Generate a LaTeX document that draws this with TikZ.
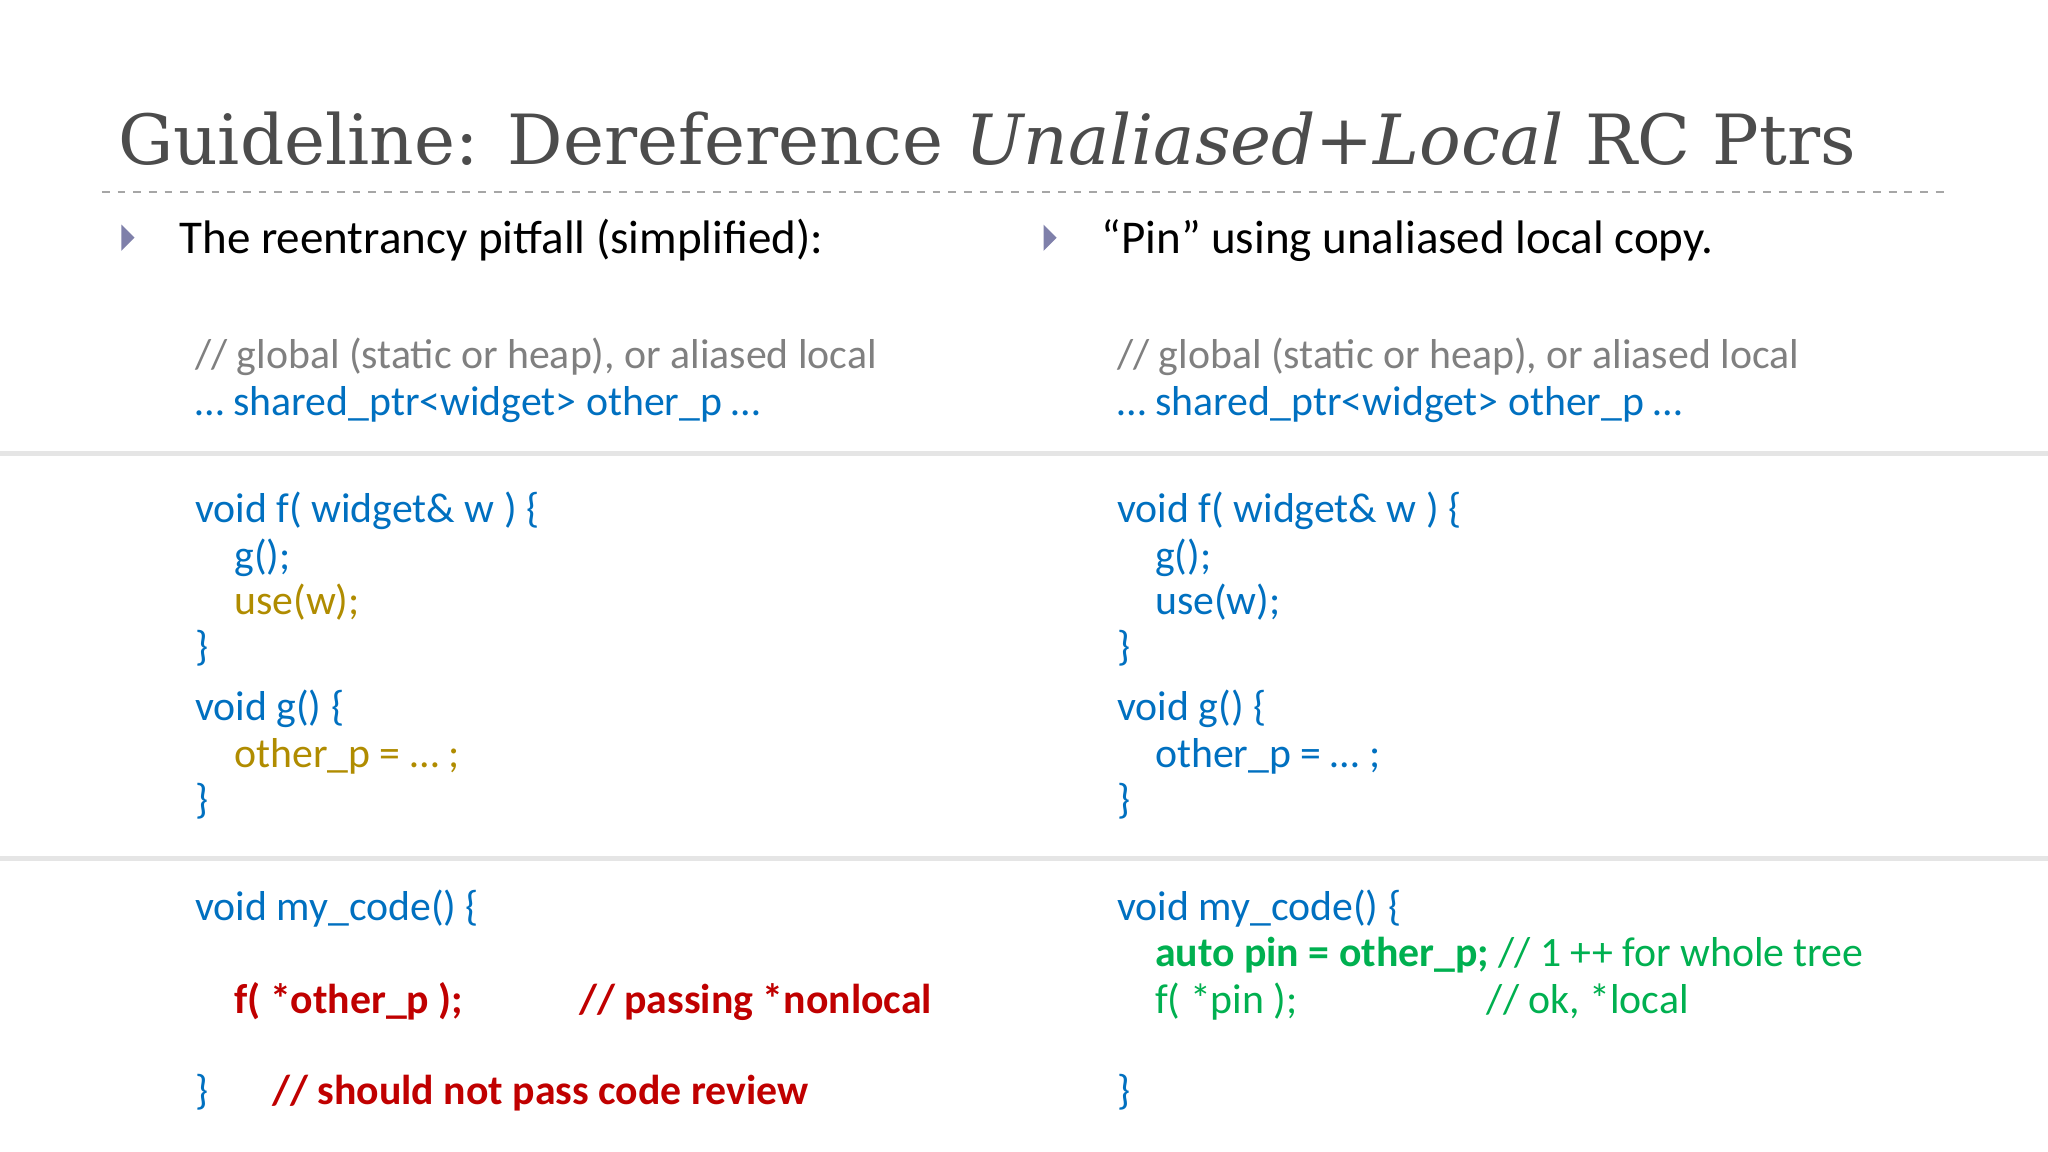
\documentclass[tikz,border=0pt]{standalone}
\usepackage{fontspec}
\setmainfont{Carlito}
\newfontfamily\titlefont{DejaVu Serif}
\definecolor{cblue}{HTML}{0070C0}
\definecolor{cgray}{HTML}{808080}
\definecolor{colive}{HTML}{B08C00}
\definecolor{cred}{HTML}{C00000}
\definecolor{cgreen}{HTML}{00B050}
\definecolor{bul}{HTML}{7F80AA}
\begin{document}
\begin{tikzpicture}[x=0.5pt,y=-0.5pt,
  code/.style={anchor=mid west,inner sep=0pt,yshift=-3pt,font=\fontsize{16}{18}\selectfont,text=cblue},
  head/.style={anchor=mid west,inner sep=0pt,yshift=-3.5pt,font=\fontsize{18}{20}\selectfont},
  bullet/.style={fill=bul,draw=none}]
\useasboundingbox (0,0) rectangle (1568,882);
\fill[white] (0,0) rectangle (1568,882);
\node[anchor=mid west,inner sep=0pt,yshift=-6.5pt,text=black!70,font=\titlefont\fontsize{26.5}{30}\selectfont] (title) at (90,108) {Guideline: Dereference \textit{Unaliased+Local} RC Ptrs};
\draw[black!35,dashed,line width=0.6pt] (78,147) -- (1490,147);
\fill[black!10] (0,345) rectangle (1568,349);
\fill[black!10] (0,655) rectangle (1568,659);
\fill[bullet] (93,172) -- (103,182) -- (93,192) -- cycle;
\fill[bullet] (799,172) -- (809,182) -- (799,192) -- cycle;
\node[head] (h1) at (137,182) {The reentrancy pitfall (simplified):};
\node[head] (h2) at (843,182) {“Pin” using unaliased local copy.};
% left
\node[code,text=cgray] (l1) at (149,271) {// global (static or heap), or aliased local};
\node[code] (l2) at (149,307) {… shared\_ptr<widget> other\_p …};
\node[code] (l3) at (149,389) {void f( widget\& w ) \{};
\node[code] (l4) at (179,425) {g();};
\node[code,text=colive] (l5) at (179,460) {use(w);};
\node[code] (l6) at (149,495) {\}};
\node[code] (l7) at (149,541) {void g() \{};
\node[code,text=colive] (l8) at (179,577) {other\_p = … ;};
\node[code] (l9) at (149,612) {\}};
\node[code] (l10) at (149,694) {void my\_code() \{};
\node[code,text=cred,font=\bfseries\fontsize{16}{18}\selectfont] (l11) at (179,765) {f( *other\_p );};
\node[code,text=cred,font=\bfseries\fontsize{16}{18}\selectfont] (l12) at (443,765) {// passing *nonlocal};
\node[code] (l13) at (149,835) {\}};
\node[code,text=cred,font=\bfseries\fontsize{16}{18}\selectfont] (l14) at (208,835) {// should not pass code review};
% right
\node[code,text=cgray] (r1) at (855,271) {// global (static or heap), or aliased local};
\node[code] (r2) at (855,307) {… shared\_ptr<widget> other\_p …};
\node[code] (r3) at (855,389) {void f( widget\& w ) \{};
\node[code] (r4) at (884,425) {g();};
\node[code] (r5) at (884,460) {use(w);};
\node[code] (r6) at (855,495) {\}};
\node[code] (r7) at (855,541) {void g() \{};
\node[code] (r8) at (884,577) {other\_p = … ;};
\node[code] (r9) at (855,612) {\}};
\node[code] (r10) at (855,694) {void my\_code() \{};
\node[code,text=cgreen] (r11) at (884,729) {\textbf{auto pin = other\_p;} // 1 ++ for whole tree};
\node[code,text=cgreen] (r12) at (884,765) {f( *pin );};
\node[code,text=cgreen] (r13) at (1138,765) {// ok, *local};
\node[code] (r14) at (855,835) {\}};
\end{tikzpicture}
\end{document}
